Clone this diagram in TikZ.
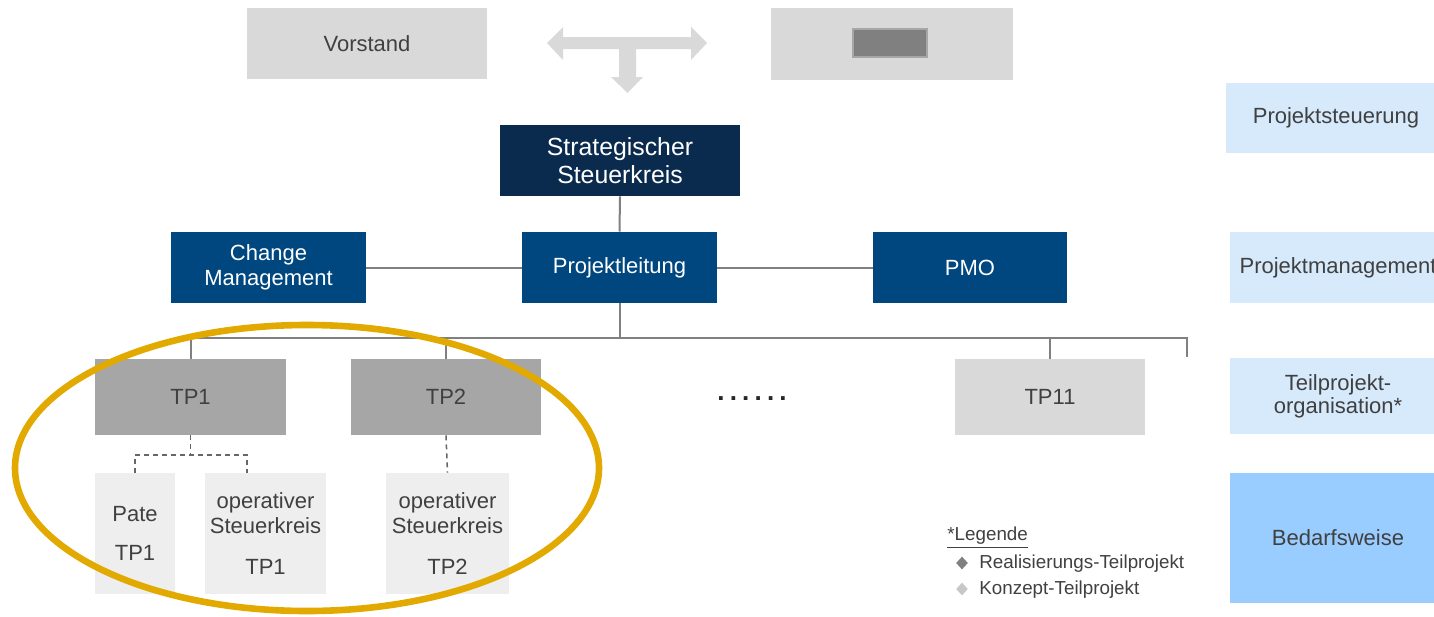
\documentclass[tikz,border=0pt]{standalone}
\usepackage{fontspec}
\setmainfont{Liberation Sans}
\usetikzlibrary{shapes.geometric}
\definecolor{vgray}{HTML}{D9D9D9}
\definecolor{tpgray}{HTML}{A6A6A6}
\definecolor{pale}{HTML}{EEEEEE}
\definecolor{navyA}{HTML}{0B2B4E}
\definecolor{navyB}{HTML}{00477F}
\definecolor{lblue}{HTML}{D6EAFC}
\definecolor{mblue}{HTML}{99CCFF}
\definecolor{gold}{HTML}{E2A900}
\definecolor{lgray}{HTML}{808080}
\definecolor{txt}{HTML}{404040}
\tikzset{
  bx/.style n args={2}{rectangle, inner sep=0pt, align=center, minimum width=#1, minimum height=#2},
  f11/.style={font=\fontsize{11}{12.5}\selectfont},
  grey/.style={fill=vgray, text=txt, f11},
  tpbox/.style={fill=tpgray, text=txt, f11},
  palebox/.style={fill=pale, text=txt, f11},
  navy/.style={fill=navyB, text=white, f11},
  lbl/.style={fill=lblue, text=txt, f11},
  conn/.style={draw=lgray, line width=1pt},
  dsh/.style={draw=lgray!80!black, line width=0.75pt, dash pattern=on 2.5pt off 2pt},
  legtext/.style={font=\fontsize{9.4}{11}\selectfont, text=txt, anchor=west, inner sep=0pt},
}
\begin{document}
\begin{tikzpicture}[x=0.5pt, y=-0.5pt]
\useasboundingbox (0,0) rectangle (1434,616);
% top row
\node[bx={120pt}{35.5pt}, grey] (vor) at (367,43.5) {Vorstand};
\node[bx={121pt}{36pt}, fill=vgray] (rbox) at (892,44) {};
\node[bx={37pt}{14pt}, fill=lgray, draw=lgray!70, line width=0.6pt] (inner) at (890,43) {};
\fill[vgray] (547,43) -- (563,27) -- (563,37) -- (691,37) -- (691,27) -- (707,43) -- (691,60) -- (691,49)
  -- (636,49) -- (636,77) -- (643,77) -- (627.5,93) -- (611,77) -- (619,77) -- (619,49) -- (563,49) -- (563,60) -- cycle;
% management
\node[bx={120pt}{35.5pt}, fill=navyA, text=white, font=\fontsize{12.4}{14}\selectfont] (ssk) at (620,160.5) {Strategischer\\Steuerkreis};
\node[bx={97.5pt}{35.5pt}, navy] (cm) at (268.5,267.5) {Change\\Management};
\node[bx={97.5pt}{35.5pt}, navy] (pl) at (619.5,267.5) {Projektleitung};
\node[bx={97pt}{35.5pt}, navy] (pmo) at (970,267.5) {PMO};
\draw[conn] (ssk.south) -- (pl.north);
\draw[conn] (cm.east) -- (pl.west);
\draw[conn] (pl.east) -- (pmo.west);
% sub projects
\node[bx={95.5pt}{38pt}, tpbox] (tp1) at (190.5,397) {TP1};
\node[bx={95pt}{38pt}, tpbox] (tp2) at (446,397) {TP2};
\node[bx={95pt}{38pt}, grey] (tp11) at (1050,397) {TP11};
\node[text=black!85, inner sep=0pt, font=\fontsize{13}{14}\selectfont\bfseries] (dots) at (752,399) {.\hspace{2.6pt}.\hspace{2.6pt}.\hspace{2.6pt}.\hspace{2.6pt}.\hspace{2.6pt}.};
\coordinate (busR) at (1187,338);
\coordinate (busEnd) at (1187,357);
\draw[conn] (pl.south) -- (pl.south |- busR);
\draw[conn] (tp1.north) |- (busR) -- (busEnd);
\draw[conn] (tp2.north) -- (tp2.north |- busR);
\draw[conn] (tp11.north) -- (tp11.north |- busR);
% lower boxes
\node[bx={40pt}{60.5pt}, palebox] (pate) at (135,533.5) {Pate\\[7pt]TP1};
\node[bx={60.5pt}{60.5pt}, palebox] (op1) at (265.5,533.5) {operativer\\Steuerkreis\\[8pt]TP1};
\node[bx={61.5pt}{60.5pt}, palebox] (op2) at (447.5,533.5) {operativer\\Steuerkreis\\[8pt]TP2};
\coordinate (dj) at (190.5,455);
\coordinate (op1t) at (247,473);
\draw[dsh] (tp1.south) -- (dj);
\draw[dsh] (pate.north) |- (dj) -| (op1t);
\draw[dsh] (tp2.south) -- (op2.north);
% highlight ellipse
\draw[gold, line width=3.3pt] (307,468) ellipse [x radius=292, y radius=143];
% right labels (cut by the right edge)
\begin{scope}
\clip (0,0) rectangle (1434,616);
\node[bx={110pt}{35pt}, lbl] (ps) at (1336,118) {Projektsteuerung};
\node[bx={108pt}{35.5pt}, lbl] (pm) at (1338,267.5) {Projektmanagement};
\node[bx={108pt}{38pt}, lbl, font=\fontsize{11}{11.5}\selectfont] (tpo) at (1338,396) {Teilprojekt-\\organisation*};
\node[bx={108pt}{65pt}, fill=mblue, text=txt, f11] (bw) at (1338,538) {Bedarfsweise};
\end{scope}
% legend
\node[legtext] (leg) at (947,538) {\underline{*Legende}};
\node[diamond, fill=lgray, inner sep=0pt, minimum width=6pt, minimum height=6.5pt] (dm1) at (962,563) {};
\node[legtext] (l1) at (979,564) {Realisierungs-Teilprojekt};
\node[diamond, fill=black!22, inner sep=0pt, minimum width=6pt, minimum height=6.5pt] (dm2) at (962,589) {};
\node[legtext] (l2) at (979,590) {Konzept-Teilprojekt};
\end{tikzpicture}
\end{document}
